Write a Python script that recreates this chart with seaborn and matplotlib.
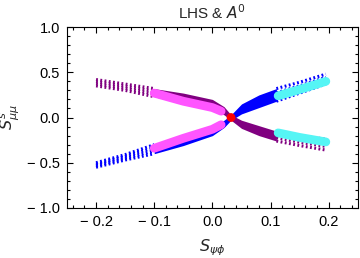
import matplotlib
matplotlib.use('Agg')
import matplotlib.pyplot as plt
import seaborn as sns
import pandas as pd
from matplotlib.ticker import MultipleLocator, FuncFormatter

# sample points along each branch (upper / lower edge of the scatter band)
branch_x = [-0.2, -0.15, -0.1, -0.05, 0.0, 0.02, 0.032, 0.05, 0.08, 0.11, 0.15, 0.195]
blue_hi = [-0.50, -0.41, -0.30, -0.19, -0.09, -0.03, 0.03, 0.15, 0.25, 0.32, 0.39, 0.48]
blue_lo = [-0.55, -0.47, -0.40, -0.31, -0.20, -0.11, -0.03, 0.04, 0.11, 0.18, 0.27, 0.37]
purple_hi = [0.42, 0.37, 0.32, 0.27, 0.20, 0.12, 0.03, -0.03, -0.09, -0.15, -0.20, -0.24]
purple_lo = [0.35, 0.30, 0.23, 0.15, 0.08, 0.03, -0.03, -0.12, -0.20, -0.26, -0.31, -0.36]

# highlighted sub-ranges
magenta_x = [-0.1, -0.05, 0.0, 0.015]
magenta_blue_y = [-0.34, -0.23, -0.13, -0.08]
magenta_purple_y = [0.27, 0.18, 0.11, 0.07]
cyan_x = [0.113, 0.15, 0.195]
cyan_blue_y = [0.24, 0.31, 0.40]
cyan_purple_y = [-0.17, -0.22, -0.27]

sm_point = (0.032, 0.0)

sns.set_style('white')
plt.rcParams['font.family'] = ['Liberation Sans', 'DejaVu Sans']
plt.rcParams['mathtext.fontset'] = 'dejavusans'

fig = plt.figure(figsize=(3.6, 2.58), dpi=100)
ax = fig.add_axes([0.186, 0.194, 0.808, 0.701])

dots = (0, (0.6, 0.8))
for hi, lo, col in [(blue_hi, blue_lo, 'blue'), (purple_hi, purple_lo, '#800080')]:
    df = pd.DataFrame({'x': branch_x, 'hi': hi, 'lo': lo})
    dense = df.iloc[2:10]
    ax.fill_between(dense['x'], dense['lo'], dense['hi'], color=col, lw=0)
    for part in (df.iloc[0:3], df.iloc[9:12]):
        for w in (0.0, 0.33, 0.67, 1.0):
            row = part['lo'] + w * (part['hi'] - part['lo'])
            sns.lineplot(x=part['x'].values, y=row.values, ax=ax,
                         color=col, lw=2.2, linestyle=dots, estimator=None, sort=False)

for xs, ys, col in [(magenta_x, magenta_blue_y, '#FF55FF'), (magenta_x, magenta_purple_y, '#FF55FF'),
                    (cyan_x, cyan_blue_y, '#55F5F5'), (cyan_x, cyan_purple_y, '#55F5F5')]:
    line = sns.lineplot(x=xs, y=ys, ax=ax, color=col, lw=6.3, estimator=None, sort=False)
    line.lines[-1].set_solid_capstyle('round')

sns.scatterplot(x=[sm_point[0]], y=[sm_point[1]], ax=ax, color='red', s=40,
                edgecolor='none', zorder=5)

ax.set_xlim(-0.25, 0.25)
ax.set_ylim(-1.0, 1.0)
ax.xaxis.set_major_locator(MultipleLocator(0.1))
ax.xaxis.set_minor_locator(MultipleLocator(0.02))
ax.yaxis.set_major_locator(MultipleLocator(0.5))
ax.yaxis.set_minor_locator(MultipleLocator(0.1))

def fmt(v, pos):
    s = f'{abs(v):.1f}'
    return ('\u2212 ' + s) if v < -1e-9 else s

ax.xaxis.set_major_formatter(FuncFormatter(fmt))
ax.yaxis.set_major_formatter(FuncFormatter(fmt))
ax.tick_params(which='both', direction='in', top=True, right=True, bottom=True, left=True,
               colors='black', labelsize=10.5, width=0.8)
ax.tick_params(which='major', length=4.5, pad=5)
ax.tick_params(which='minor', length=2.5)
for sp in ax.spines.values():
    sp.set_color('black')
    sp.set_linewidth(0.8)

ax.set_title('LHS & $A^0$', fontsize=11, pad=6)
ax.set_xlabel(r'$S_{\psi\phi}$', fontsize=11.5, labelpad=6)
ax.set_ylabel(r'$S^s_{\mu\mu}$', fontsize=11.5, labelpad=4)

fig.savefig('out.png', dpi=100)
